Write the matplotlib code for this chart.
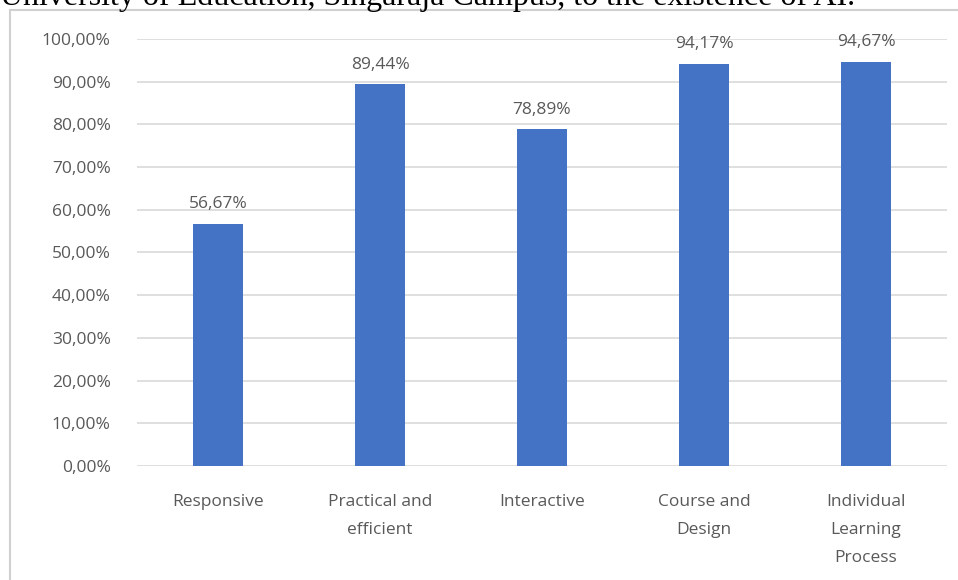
import matplotlib
matplotlib.use("Agg")
import matplotlib.pyplot as plt
from matplotlib.patches import Rectangle
import numpy as np

categories = ["Responsive", "Practical and\nefficient", "Interactive",
              "Course and\nDesign", "Individual\nLearning\nProcess"]
values = [56.67, 89.44, 78.89, 94.17, 94.67]
yticks = [0, 10, 20, 30, 40, 50, 60, 70, 80, 90, 100]

grey = "#595959"
bar_color = "#4472C4"
font = "Open Sans"

fig = plt.figure(figsize=(9.58, 5.8), dpi=100)
ax = fig.add_axes([137/958, 1 - 466/580, 810/958, 427/580])

x = np.arange(len(categories))
ax.bar(x, values, width=0.31, color=bar_color, zorder=3)
for xi, v in zip(x, values):
    ax.text(xi, v + 2.7, f"{v:.2f}%".replace(".", ","), ha="center", va="bottom",
            fontsize=12.5, color=grey, family=font)

ax.set_xlim(-0.5, len(categories) - 0.5)
ax.set_ylim(0, 100)
ax.set_yticks(yticks)
ax.set_yticklabels([f"{t:.2f}%".replace(".", ",") for t in yticks],
                   fontsize=12.5, color=grey, family=font)
ax.set_xticks(x)
ax.set_xticklabels(categories, fontsize=12.5, color=grey, family=font,
                   linespacing=2.0, va="top")
ax.tick_params(axis="both", length=0)
ax.tick_params(axis="y", pad=19)
ax.tick_params(axis="x", pad=20)
ax.grid(axis="y", color="#D9D9D9", lw=1.2, zorder=0)
for s in ax.spines.values():
    s.set_visible(False)

# outer chart frame (only top and left edges fall inside the picture)
fig.patches.append(Rectangle((10/958, -0.1), 1.2, 1 - 10/580 + 0.1,
                             transform=fig.transFigure, fill=False,
                             edgecolor="#D0D0D0", lw=1.5, zorder=0))

# caption line from the page, cut off at the top
fig.text(0.0, 1 - 5/580, "University of Education, Singaraja Campus, to the existence of AI.",
         ha="left", va="baseline", fontsize=23, family="Liberation Serif", color="black")

fig.savefig("out.png", dpi=100)
